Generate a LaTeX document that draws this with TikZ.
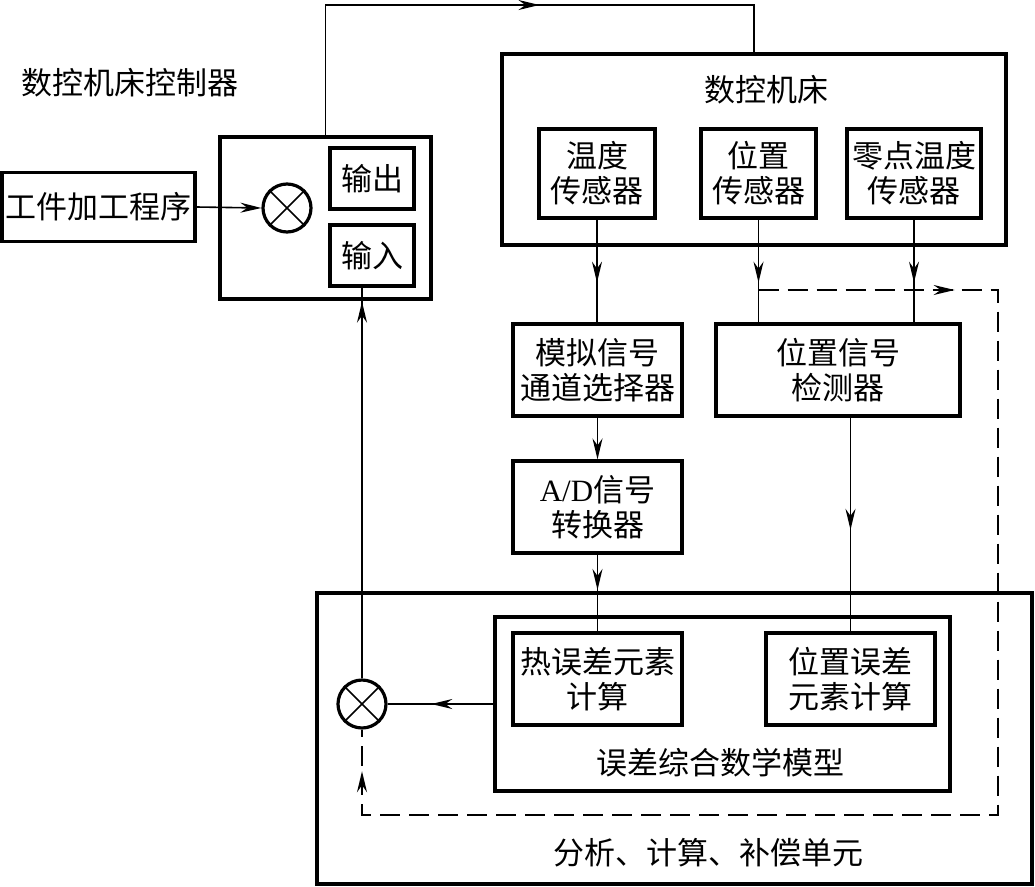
\documentclass[tikz,border=0pt]{standalone}
\usepackage{fontspec}
\setmainfont{Noto Sans CJK SC}
\newfontfamily\latinfont{Liberation Serif}
\usetikzlibrary{arrows.meta,decorations.markings}
\begin{document}
\begin{tikzpicture}[x=1pt,y=-1pt,
  font=\fontsize{31pt}{35pt}\selectfont,
  bx/.style={draw,line width=3.2pt,inner sep=0pt,align=center},
  bigbx/.style={draw,line width=3.6pt,inner sep=0pt},
  sumc/.style={draw,circle,line width=3.2pt,minimum size=48pt,inner sep=0pt},
  conn/.style={line width=1.6pt},
  endarr/.style={-{Stealth[length=21pt,width=10pt,inset=7pt]}},
  midarrow/.style={postaction={decorate,decoration={markings,
      mark=at position #1 with {\arrow{Stealth[length=21pt,width=10pt,inset=7pt]}}}}},
  dsh/.style={dash pattern=on 20pt off 9pt}
]
\useasboundingbox (0,0) rectangle (1035,886);

% controller
\node[bx,minimum width=193pt,minimum height=69pt] (prog) at (98.5,207) {工件加工程序};
\node[bigbx,minimum width=211pt,minimum height=162pt] (ctrl) at (325.5,218) {};
\node[sumc] (c1) at (287,208) {};
\draw[line width=1.6pt] (c1.north west) -- (c1.south east) (c1.north east) -- (c1.south west);
\node[bx,minimum width=84pt,minimum height=61pt] (out) at (372,178.5) {输出};
\node[bx,minimum width=84pt,minimum height=61pt] (in) at (372,255.5) {输入};
\node (ctrltitle) at (130,83) {数控机床控制器};

% machine
\node[bigbx,minimum width=504pt,minimum height=191pt] (mach) at (754,149.5) {};
\node (machtitle) at (766,90) {数控机床};
\node[bx,minimum width=116pt,minimum height=89pt] (s1) at (597,173.5) {温度\\传感器};
\node[bx,minimum width=115pt,minimum height=89pt] (s2) at (758.5,173.5) {位置\\传感器};
\node[bx,minimum width=134pt,minimum height=89pt] (s3) at (914,173.5) {零点温度\\传感器};

% middle
\node[bx,minimum width=169pt,minimum height=92pt] (analog) at (597.5,370) {模拟信号\\通道选择器};
\node[bx,minimum width=244pt,minimum height=92pt] (det) at (838,370) {位置信号\\检测器};
\node[bx,minimum width=169pt,minimum height=92pt] (ad) at (597.5,507) {{\latinfont A/D}信号\\转换器};

% bottom
\node[bigbx,minimum width=715pt,minimum height=291pt] (outer) at (674.5,738.5) {};
\node[bigbx,line width=3.2pt,minimum width=455pt,minimum height=174pt] (model) at (722.5,704) {};
\node[bx,minimum width=169pt,minimum height=92pt] (he) at (597.5,679) {热误差元素\\计算};
\node[bx,minimum width=169pt,minimum height=92pt] (pe) at (850.5,679) {位置误差\\元素计算};
\node (modeltitle) at (720,763) {误差综合数学模型};
\node (outertitle) at (708,853) {分析、计算、补偿单元};
\node[sumc] (c2) at (362,704) {};
\draw[line width=1.6pt] (c2.north west) -- (c2.south east) (c2.north east) -- (c2.south west);

% helper coordinates
\coordinate (topy) at (0,5);
\coordinate (dne) at (998,290);
\coordinate (dse) at (998,815);

% connectors
\draw[conn,endarr] (prog.east) -- (c1.west);
\draw[conn,midarrow=0.568] (ctrl.north) -- (ctrl.north |- topy) -| (mach.north);
\draw[conn,midarrow=0.613] (s1.south) -- (s1.south |- analog.north);
\draw[conn,midarrow=0.613] (s2.south) -- (s2.south |- det.north);
\draw[conn,midarrow=0.613] (s3.south) -- (s3.south |- det.north);
\draw[conn,endarr] (analog.south) -- (ad.north);
\draw[conn,midarrow=0.46] (ad.south) -- (he.north);
\draw[conn,midarrow=0.525] (pe.north |- det.south) -- (pe.north);
\draw[conn,midarrow=0.587] (model.west) -- (c2.east);
\draw[conn,midarrow=0.964] (c2.north) -- (c2.north |- in.south);
\draw[conn,dsh,midarrow=0.132,midarrow=0.972] (s2.south |- dne) -- (dne) -- (dse) -- (dse -| c2) -- (c2.south);
\end{tikzpicture}
\end{document}
